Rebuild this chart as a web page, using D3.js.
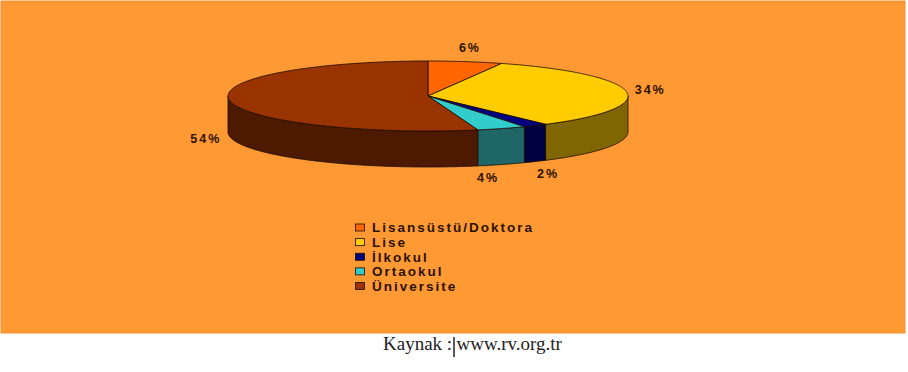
<!DOCTYPE html>
<html>
<head>
<meta charset="utf-8">
<script src="https://cdn.jsdelivr.net/npm/d3@7"></script>
<style>
  body { margin: 0; background: #fff; }
  svg { display: block; }
</style>
</head>
<body>
<svg id="chart"></svg>
<script>
// education level shares (%)
const categories = ['Lisansüstü/Doktora', 'Lise', 'İlkokul', 'Ortaokul', 'Üniversite'];
const shares = [6, 34, 2, 4, 54];
const topColors = ['#FF6600', '#FFCC00', '#000080', '#33CCCC', '#993300'];
const sideColors = ['#803300', '#806600', '#000040', '#1F6666', '#4D1A00'];
const sourceText = ['Kaynak :', 'www.rv.org.tr'];

const width = 908;
const height = 372;

const svg = d3.select('#chart')
    .attr('width', width)
    .attr('height', height);

// orange plot area
svg.append('rect')
    .attr('x', 1).attr('y', 1)
    .attr('width', 904).attr('height', 332)
    .attr('fill', '#FF9933')
    .attr('stroke', '#F29130')
    .attr('stroke-width', 1);

const cx = 428, cy = 96, rx = 200, ry = 35, depth = 36;

const topColor = d3.scaleOrdinal().domain(categories).range(topColors);
const sideColor = d3.scaleOrdinal().domain(categories).range(sideColors);

const pie = d3.pie().sort(null).value(d => d.value);
const arcs = pie(categories.map((c, i) => ({ label: c, value: shares[i] })));

function pt(a, dy) {
    return [cx + rx * Math.sin(a), cy - ry * Math.cos(a) + (dy || 0)];
}

function sample(a0, a1, dy) {
    const n = Math.max(2, Math.ceil(Math.abs(a1 - a0) / 0.01));
    return d3.range(n + 1).map(i => pt(a0 + (a1 - a0) * i / n, dy));
}

const line = d3.line();
const g = svg.append('g');

// outer walls, front half only
g.selectAll('path.side')
    .data(arcs.filter(d => d.endAngle > Math.PI / 2 && d.startAngle < Math.PI * 1.5))
    .join('path')
    .attr('class', 'side')
    .attr('d', d => {
        const s0 = Math.max(d.startAngle, Math.PI / 2);
        const s1 = Math.min(d.endAngle, Math.PI * 1.5);
        return line(sample(s0, s1, 0).concat(sample(s1, s0, depth))) + 'Z';
    })
    .attr('fill', d => sideColor(d.data.label))
    .attr('stroke', '#1a0a00')
    .attr('stroke-width', 0.8)
    .attr('stroke-linejoin', 'round');

// top faces
g.selectAll('path.top')
    .data(arcs)
    .join('path')
    .attr('class', 'top')
    .attr('d', d => line([[cx, cy]].concat(sample(d.startAngle, d.endAngle, 0))) + 'Z')
    .attr('fill', d => topColor(d.data.label))
    .attr('stroke', '#1a0a00')
    .attr('stroke-width', 0.8)
    .attr('stroke-linejoin', 'round');

// percentage labels
const labelPos = arcs.map(d => {
    const m = (d.startAngle + d.endAngle) / 2;
    const front = Math.cos(m) < 0;
    return {
        text: d.data.value + '%',
        x: cx + (rx + 24) * Math.sin(m),
        y: cy - (ry + 14) * Math.cos(m) + (front ? depth : 0)
    };
});
// push apart labels that crowd each other
for (let i = 1; i < labelPos.length; i++) {
    const p = labelPos[i - 1], q = labelPos[i];
    if (Math.abs(p.x - q.x) < 60 && Math.abs(p.y - q.y) < 20) {
        q.x = p.x + (q.x < p.x ? -60 : 60);
    }
}

svg.selectAll('text.pct')
    .data(labelPos)
    .join('text')
    .attr('class', 'pct')
    .attr('x', d => d.x)
    .attr('y', d => d.y)
    .attr('dy', '0.35em')
    .attr('text-anchor', 'middle')
    .attr('font-family', 'Liberation Sans, Arial, sans-serif')
    .attr('font-weight', 'bold')
    .attr('font-size', 12.5)
    .attr('letter-spacing', 2)
    .attr('fill', '#2b1200')
    .text(d => d.text);

// legend
const legendY = d3.scalePoint().domain(categories).range([227.5, 286]);
const legend = svg.append('g');

legend.selectAll('rect')
    .data(categories)
    .join('rect')
    .attr('x', 355.5)
    .attr('y', d => legendY(d) - 3.5)
    .attr('width', 9)
    .attr('height', 7)
    .attr('fill', d => topColor(d))
    .attr('stroke', '#1a0a00')
    .attr('stroke-width', 0.8);

legend.selectAll('text')
    .data(categories)
    .join('text')
    .attr('x', 372)
    .attr('y', d => legendY(d))
    .attr('dy', '0.36em')
    .attr('font-family', 'Liberation Sans, Arial, sans-serif')
    .attr('font-weight', 'bold')
    .attr('font-size', 13.5)
    .attr('letter-spacing', 2)
    .attr('fill', '#2b1200')
    .text(d => d);

// source line
svg.append('text')
    .attr('x', 383)
    .attr('y', 350)
    .attr('font-family', 'Liberation Serif, Times New Roman, serif')
    .attr('font-size', 19)
    .attr('fill', '#222')
    .text(sourceText[0]);

svg.append('line')
    .attr('x1', 454).attr('x2', 454)
    .attr('y1', 337).attr('y2', 357)
    .attr('stroke', '#222')
    .attr('stroke-width', 1.5);

svg.append('text')
    .attr('x', 456.5)
    .attr('y', 350)
    .attr('font-family', 'Liberation Serif, Times New Roman, serif')
    .attr('font-size', 19)
    .attr('fill', '#222')
    .text(sourceText[1]);
</script>
</body>
</html>
